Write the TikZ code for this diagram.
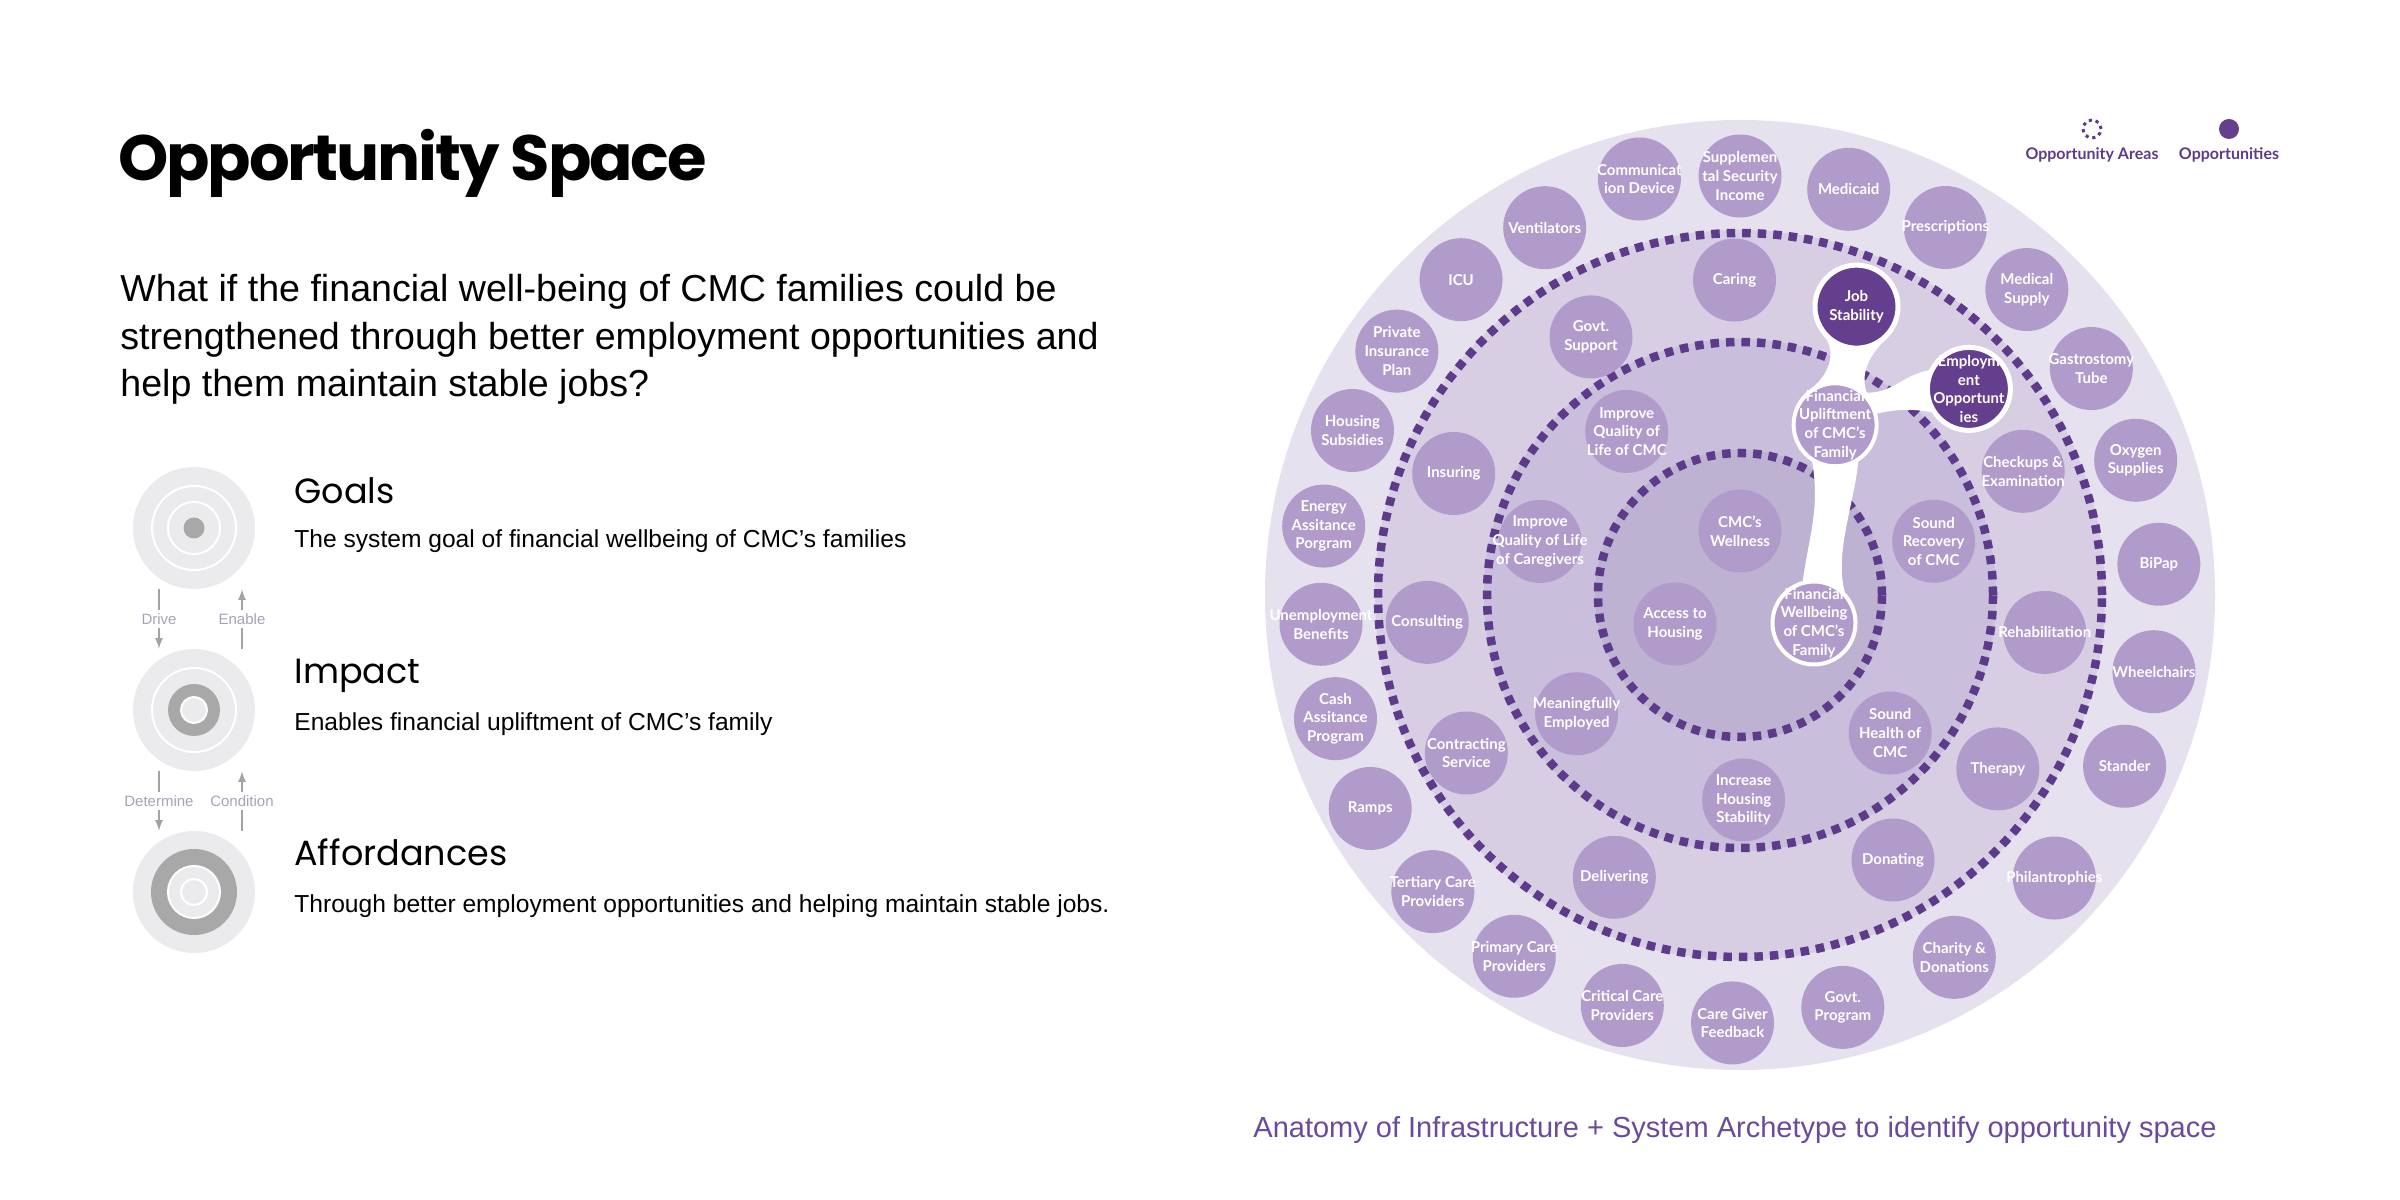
\documentclass[tikz,border=0pt]{standalone}
\usepackage{fontspec}
\setmainfont{Liberation Sans}
\newfontfamily\titlefont{Poppins}
\newfontfamily\nodefont{Lato}

\definecolor{bandA}{HTML}{E6E1EE}
\definecolor{bandB}{HTML}{D7CEE4}
\definecolor{bandC}{HTML}{C9BEDB}
\definecolor{bandD}{HTML}{BEB2D3}
\definecolor{oppfill}{HTML}{B09BCB}
\definecolor{keyfill}{HTML}{643F8D}
\definecolor{dashp}{HTML}{5E3A8A}
\definecolor{capp}{HTML}{6A4A9C}
\definecolor{iconbg}{HTML}{EBEBED}
\definecolor{icongray}{HTML}{A8A8A8}
\definecolor{arrowgray}{HTML}{A3A3A3}
\definecolor{lblgray}{HTML}{A8A2B6}

\pgfdeclarelayer{back}
\pgfdeclarelayer{mid}
\pgfsetlayers{back,mid,main}

\tikzset{
  opp/.style={circle, fill=oppfill, minimum size=41.5pt, inner sep=0pt, label={[opptext]center:#1}},
  keyopp/.style={opp={#1}, fill=keyfill, draw=white, line width=2.5pt},
  pathopp/.style={opp={#1}, draw=white, line width=2pt},
  opptext/.style={align=center, text=white, fill=none, draw=none, inner sep=0pt, font=\nodefont\bfseries\fontsize{7.5}{9.35}\selectfont},
  target/.style={circle, fill=iconbg, minimum size=61pt, inner sep=0pt},
  ringline/.style={draw=white, line width=1pt},
  flow/.style={draw=arrowgray, line width=0.8pt, -latex},
  flowlbl/.style={fill=white, text=lblgray, inner sep=1.5pt, font=\fontsize{7.5}{9}\selectfont},
  head/.style={anchor=base west, inner sep=0pt, font=\titlefont\fontsize{17.5}{20}\selectfont},
  desc/.style={anchor=base west, inner sep=0pt, font=\fontsize{12.3}{15}\selectfont},
  areaedge/.style={draw=dashp, line width=4.25pt, dash pattern=on 4.25pt off 3.5pt},
  legtxt/.style={text=dashp, inner sep=0pt, font=\nodefont\bfseries\fontsize{8}{10}\selectfont},
}

\begin{document}
\begin{tikzpicture}[x=0.5pt, y=0.5pt]
  \useasboundingbox (0,0) rectangle (2400,1200);
  \begin{pgfonlayer}{back}
    \fill[white] (0,0) rectangle (2400,1200);
  \end{pgfonlayer}

  % left column
  \node[anchor=base west, inner sep=0pt, font=\titlefont\bfseries\fontsize{32}{40}\selectfont\addfontfeature{LetterSpace=-3.4}] (title) at (118,1019) {Opportunity Space};
  \node[anchor=base west, inner sep=0pt, align=left, font=\fontsize{18.8}{23.75}\selectfont] (question) at (120,803)
    {What if the financial well-being of CMC families could be\\strengthened through better employment opportunities and\\help them maintain stable jobs?};

  \node[target] (goal) at (194,672) {};
  \draw[ringline] (goal) circle (42) (goal) circle (26);
  \fill[icongray] (goal) circle (10.5);

  \node[target] (impact) at (194,490) {};
  \fill[icongray] (impact) circle (26);
  \fill[iconbg] (impact) circle (13);
  \draw[ringline] (impact) circle (42) (impact) circle (13);

  \node[target] (afford) at (194,308) {};
  \fill[icongray] (afford) circle (43);
  \fill[iconbg] (afford) circle (26);
  \draw[ringline] (afford) circle (26) (afford) circle (13);

  \draw[flow] ([xshift=-17.5pt]goal.south) -- ([xshift=-17.5pt]impact.north) node[midway, flowlbl] {Drive};
  \draw[flow] ([xshift=24pt]impact.north) -- ([xshift=24pt]goal.south) node[midway, flowlbl] {Enable};
  \draw[flow] ([xshift=-17.5pt]impact.south) -- ([xshift=-17.5pt]afford.north) node[midway, flowlbl] {Determine};
  \draw[flow] ([xshift=24pt]afford.north) -- ([xshift=24pt]impact.south) node[midway, flowlbl] {Condition};

  \node[head] (goalhd) at (294,696) {Goals};
  \node[desc] (goaltxt) at (294,652) {The system goal of financial wellbeing of CMC’s families};
  \node[head] (impacthd) at (294,516) {Impact};
  \node[desc] (impacttxt) at (294,469) {Enables financial upliftment of CMC’s family};
  \node[head] (affordhd) at (294,334) {Affordances};
  \node[desc] (affordtxt) at (294,287) {Through better employment opportunities and helping maintain stable jobs.};

  % legend
  \node[circle, draw=dashp, line width=1.5pt, dash pattern=on 1.6pt off 1.93pt, minimum size=9pt, inner sep=0pt] (areakey) at (2092,1071) {};
  \node[legtxt] (arealbl) at (2092,1045) {Opportunity Areas};
  \node[circle, fill=keyfill, minimum size=10pt, inner sep=0pt] (oppkey) at (2229,1071) {};
  \node[legtxt] (opplbl) at (2229,1045) {Opportunities};

  \node[anchor=base, inner sep=0pt, text=capp, font=\fontsize{14.5}{17}\selectfont] (caption) at (1735,62)
    {Anatomy of Infrastructure + System Archetype to identify opportunity space};

  % anatomy rings
  \begin{scope}[shift={(1740,605)}]
    \begin{pgfonlayer}{back}
      \fill[bandA] (0,0) circle (475);
      \fill[bandB] (0,0) circle (365);
      \fill[bandC] (0,0) circle (256);
      \fill[bandD] (0,0) circle (145);
      \foreach \r in {362,253,142}
        \draw[areaedge] (0,0) circle (\r);
    \end{pgfonlayer}

    % outer ring
    \foreach \a/\r/\txt [count=\i] in {90/419/{Supplemen\\tal Security\\Income}, 75/420/Medicaid,
        60.8/421/Prescriptions, 46.8/419/{Medical\\Supply}, 32.8/418/{Gastrostomy\\Tube},
        18.8/418/{Oxygen\\Supplies}, 4.2/420/BiPap, -10.5/421/Wheelchairs, -24/421/Stander,
        -42/423/Philantrophies, -59.4/421/{Charity \&\\Donations}, -76/425/{Govt.\\Program},
        -91/428/{Care Giver\\Feedback}, -106/427/{Critical Care\\Providers},
        -122/426/{Primary Care\\Providers}, -136/427/{Tertiary Care\\Providers}, -150/427/Ramps,
        -163/423/{Cash\\Assitance\\Program}, -176/420/{Unemployment\\Benefits},
        170.6/422/{Energy\\Assitance\\Porgram}, 157/421/{Housing\\Subsidies},
        144.6/421/{Private\\Insurance\\Plan}, 131.5/421/ICU, 118/416/Ventilators,
        103.6/428/{Communicat\\ion Device}}
      \node[opp={\txt}] (o\i) at (\a:\r) {};

    % middle ring
    \foreach \a/\r/\txt [count=\i] in {91/315/Caring, 23.6/309/{Checkups \&\\Examination},
        -7/307/Rehabilitation, -34/311/Therapy, -60/306/Donating, -114/309/Delivering,
        -150/316/{Contracting\\Service}, -175/314/Consulting, 157/311/Insuring, 120/298/{Govt.\\Support}}
      \node[opp={\txt}] (m\i) at (\a:\r) {};
    \node[keyopp={Job\\Stability}] (js) at (68:311) {};
    \node[keyopp={Employm\\ent\\Opportunt\\ies}] (eo) at (42:308) {};

    % inner ring
    \foreach \a/\r/\txt [count=\i] in {15.5/201/{Sound\\Recovery\\of CMC}, -42.6/204/{Sound\\Health of\\CMC},
        -89/205/{Increase\\Housing\\Stability}, -144/202/{Meaningfully\\Employed},
        165/207/{Improve\\Quality of Life\\of Caregivers}, 124.7/199/{Improve\\Quality of\\Life of CMC}}
      \node[opp={\txt}] (n\i) at (\a:\r) {};
    \node[pathopp={Financial\\Upliftment\\of CMC’s\\Family}] (fu) at (60.8:195) {};

    % core
    \node[opp={CMC’s\\Wellness}] (wellness) at (0,64) {};
    \node[opp={Access to\\Housing}] (access) at (-65,-29) {};
    \node[pathopp={Financial\\Wellbeing\\of CMC’s\\Family}] (fw) at (74,-28) {};
  \end{scope}

  % white links between opportunities
  \begin{pgfonlayer}{mid}
    \fill[white] (js.222) to[out=-48,in=35] (fu.125) -- (fu.35) to[out=125,in=222] (js.312) -- cycle;
    \fill[white] (fu.48) to[out=-5,in=190] (eo.155) -- (eo.212) to[out=170,in=12] (fu.15) -- cycle;
    \fill[white] (fu.238) to[out=-80,in=82] (fw.105) -- (fw.45) to[out=105,in=-95,looseness=0.8] (fu.302) -- cycle;
  \end{pgfonlayer}
\end{tikzpicture}
\end{document}
